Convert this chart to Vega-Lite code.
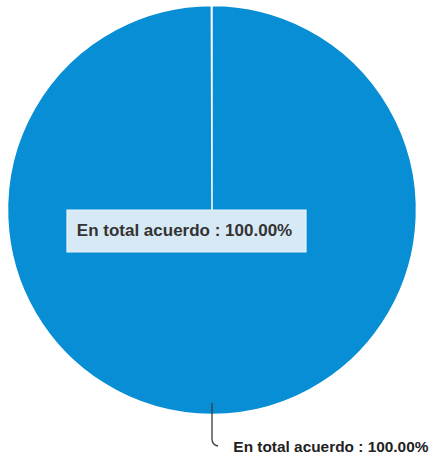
{
  "$schema": "https://vega.github.io/schema/vega-lite/v6.json",
  "width": 424,
  "height": 420,
  "autosize": {"type": "none"},
  "padding": {"left": 0, "top": 0, "right": 8, "bottom": 42},
  "background": "#ffffff",
  "view": {"stroke": null},
  "data": {"values": [{"categoria": "En total acuerdo", "porcentaje": 100}]},
  "transform": [
    {"calculate": "datum.categoria + ' : ' + format(datum.porcentaje, '.2f') + '%'", "as": "etiqueta"}
  ],
  "layer": [
    {
      "mark": {"type": "arc", "outerRadius": 204.5, "fill": "#078ED4", "stroke": "#ffffff", "strokeWidth": 1.5},
      "encoding": {
        "theta": {"field": "porcentaje", "type": "quantitative", "stack": true, "scale": {"domain": [0, 100.05]}}
      }
    },
    {
      "mark": {"type": "point", "shape": "M0,193L0,229Q0,235 6,236", "size": 4, "filled": false, "stroke": "#3a3a3a", "strokeWidth": 1.3, "opacity": 1},
      "encoding": {}
    },
    {
      "mark": {"type": "text", "radius": 237.5, "align": "left", "baseline": "middle", "dx": 21, "font": "Liberation Sans", "fontSize": 15.4, "fontWeight": "bold", "fill": "#222222"},
      "encoding": {
        "theta": {"field": "porcentaje", "type": "quantitative", "stack": true},
        "text": {"field": "etiqueta"}
      }
    },
    {
      "mark": {"type": "point", "shape": "M-145,0H94V42H-145Z", "size": 4, "filled": true, "fill": "#d7e9f5", "stroke": "#e9f3fa", "strokeWidth": 1.2, "opacity": 1},
      "encoding": {}
    },
    {
      "mark": {"type": "text", "align": "center", "baseline": "middle", "dx": -27.5, "dy": 21, "font": "Liberation Sans", "fontSize": 17, "fontWeight": "bold", "fill": "#333333"},
      "encoding": {
        "text": {"field": "etiqueta"}
      }
    }
  ]
}
